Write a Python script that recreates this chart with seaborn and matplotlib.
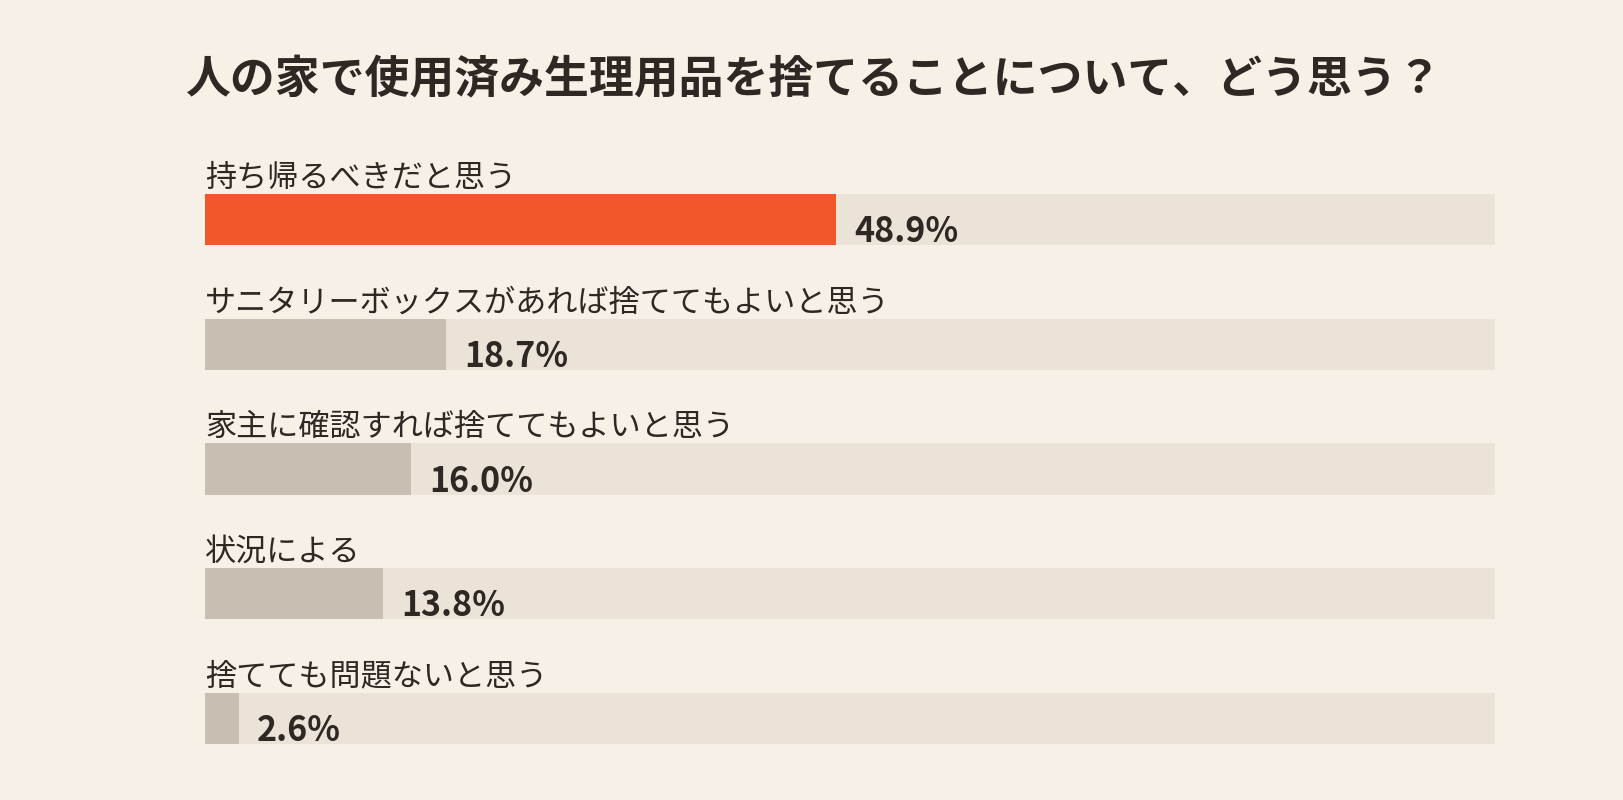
import matplotlib
matplotlib.use("Agg")
import matplotlib.pyplot as plt
import seaborn as sns
import pandas as pd

# Data
CATEGORIES = [
    "持ち帰るべきだと思う",
    "サニタリーボックスがあれば捨ててもよいと思う",
    "家主に確認すれば捨ててもよいと思う",
    "状況による",
    "捨てても問題ないと思う",
]
VALUES = [48.9, 18.7, 16.0, 13.8, 2.6]
TITLE = "人の家で使用済み生理用品を捨てることについて、どう思う？"

BG = "#F7F0E6"
TRACK = "#EBE3D8"
HIGHLIGHT = "#F2572B"
MUTED = "#C8BEB1"
TEXT = "#2E2723"

sns.set_theme(style="white")
plt.rcParams["font.family"] = ["Noto Sans CJK JP", "DejaVu Sans"]

df = pd.DataFrame({"cat": CATEGORIES, "val": VALUES, "full": [100] * len(VALUES)})

fig = plt.figure(figsize=(16.24, 8), dpi=100, facecolor=BG)
ax = fig.add_axes([205 / 1624, 56 / 800, 1290 / 1624, 550 / 800])
ax.set_facecolor(BG)

step = 124.7  # px between bar centres
h = 51 / step
sns.barplot(data=df, x="full", y="cat", color=TRACK, width=h, ax=ax, orient="h",
            saturation=1, linewidth=0)
colors = [HIGHLIGHT] + [MUTED] * (len(VALUES) - 1)
sns.barplot(data=df, x="val", y="cat", hue="cat", palette=colors, legend=False,
            width=h, ax=ax, orient="h", saturation=1, linewidth=0)

ax.set_xlim(0, 100)
ax.set_ylim(len(VALUES) - 1 + h / 2, -h / 2)
ax.set_xticks([])
ax.set_yticks([])
ax.set_xlabel("")
ax.set_ylabel("")
for s in ax.spines.values():
    s.set_visible(False)

for i, (c, v) in enumerate(zip(CATEGORIES, VALUES)):
    ax.text(0, i - h / 2 - 0.5 / step, c, ha="left", va="bottom",
            fontsize=22.4, color=TEXT)
    ax.text(v + 1.4, i + h / 2 - 3 / step, f"{v:.1f}%", ha="left", va="baseline",
            fontsize=24.5, fontweight="bold", color=TEXT)

fig.text(185 / 1624, 1 - 80 / 800, TITLE, ha="left", va="center",
         fontsize=32.3, fontweight="bold", color=TEXT)

fig.savefig("out.png", facecolor=BG)
